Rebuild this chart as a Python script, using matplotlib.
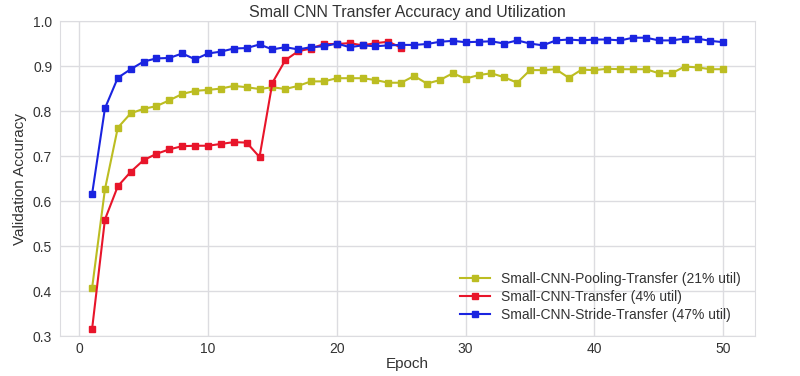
import matplotlib
matplotlib.use("Agg")
import matplotlib.pyplot as plt

epochs_pool = list(range(1, 51))
pooling = [0.406, 0.626, 0.763, 0.795, 0.805, 0.811, 0.824, 0.838, 0.845, 0.847,
           0.850, 0.856, 0.853, 0.849, 0.853, 0.849, 0.856, 0.866, 0.866, 0.873,
           0.873, 0.873, 0.869, 0.863, 0.863, 0.878, 0.861, 0.869, 0.884, 0.872,
           0.880, 0.884, 0.875, 0.863, 0.891, 0.891, 0.893, 0.874, 0.892, 0.891,
           0.894, 0.893, 0.893, 0.893, 0.884, 0.884, 0.899, 0.897, 0.893, 0.893]

epochs_transfer = list(range(1, 26))
transfer = [0.315, 0.559, 0.633, 0.665, 0.691, 0.705, 0.715, 0.722, 0.723, 0.723,
            0.727, 0.731, 0.730, 0.698, 0.863, 0.913, 0.933, 0.939, 0.949, 0.949,
            0.951, 0.946, 0.951, 0.954, 0.941]

epochs_stride = list(range(1, 51))
stride = [0.615, 0.806, 0.874, 0.893, 0.910, 0.917, 0.918, 0.928, 0.915, 0.928,
          0.932, 0.939, 0.940, 0.948, 0.937, 0.942, 0.937, 0.942, 0.944, 0.950,
          0.942, 0.946, 0.944, 0.946, 0.947, 0.947, 0.949, 0.954, 0.956, 0.953,
          0.954, 0.955, 0.950, 0.957, 0.950, 0.946, 0.957, 0.959, 0.957, 0.959,
          0.959, 0.957, 0.963, 0.963, 0.957, 0.957, 0.961, 0.961, 0.956, 0.953]

labels = ["Small-CNN-Pooling-Transfer (21% util)",
          "Small-CNN-Transfer (4% util)",
          "Small-CNN-Stride-Transfer (47% util)"]

plt.rcParams['font.family'] = ['Liberation Sans', 'DejaVu Sans']
txt = '#333333'

fig = plt.figure(figsize=(8, 3.76), dpi=100)
ax = fig.add_axes([0.0756, 0.106, 0.868, 0.838])

ax.plot(epochs_pool, pooling, color='#bcbd22', marker='s', markersize=4.5, lw=1.5, label=labels[0])
ax.plot(epochs_transfer, transfer, color='#e8152a', marker='s', markersize=4.5, lw=1.5, label=labels[1])
ax.plot(epochs_stride, stride, color='#1a24e0', marker='s', markersize=4.5, lw=1.5, label=labels[2])

ax.set_ylim(0.3, 1.0)
ax.set_xticks([0, 10, 20, 30, 40, 50])
ax.grid(True, color='#dcdce0', lw=1)
ax.set_axisbelow(True)
for s in ax.spines.values():
    s.set_color('#dcdce0')
ax.tick_params(length=0, labelsize=10, colors=txt)
ax.tick_params(axis='x', pad=4)
ax.tick_params(axis='y', pad=6)
ax.set_title("Small CNN Transfer Accuracy and Utilization", fontsize=11.5, color=txt, pad=3)
ax.set_xlabel("Epoch", fontsize=11, color=txt, labelpad=1)
ax.set_ylabel("Validation Accuracy", fontsize=11, color=txt)
leg = ax.legend(loc='lower right', frameon=False, fontsize=10, handlelength=2.2,
                labelspacing=0.3, borderaxespad=0.6)
for t in leg.get_texts():
    t.set_color(txt)

fig.savefig("out.png", dpi=100)
